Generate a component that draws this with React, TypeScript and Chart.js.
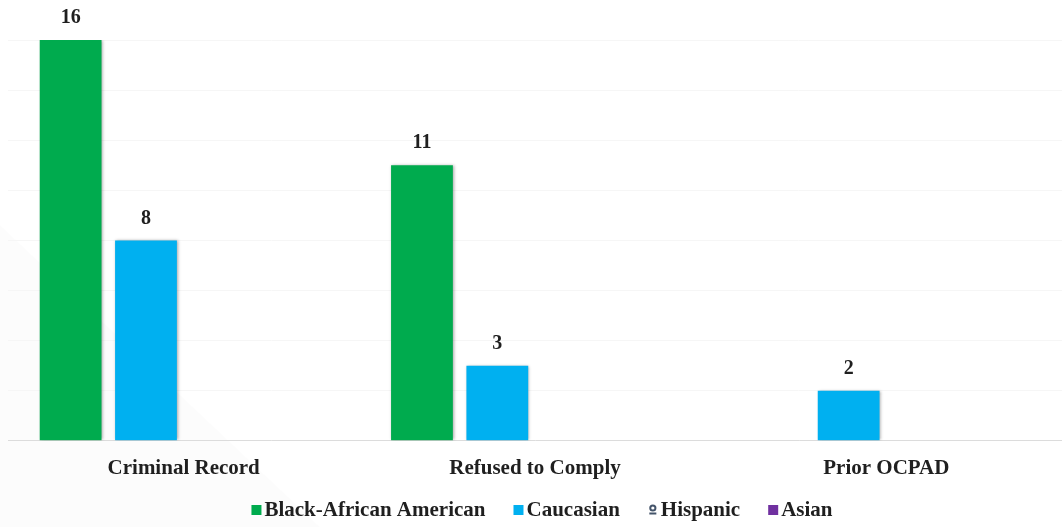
import React, { useEffect, useRef } from "react";
import { Chart, registerables } from "chart.js";

Chart.register(...registerables);

const categories = ["Criminal Record", "Refused to Comply", "Prior OCPAD"];
const seriesNames = ["Black-African American", "Caucasian", "Hispanic", "Asian"];
const blackAfricanAmerican = [16, 11, 0];
const caucasian = [8, 3, 2];
const hispanic = [0, 0, 0];
const asian = [0, 0, 0];
const seriesColors = ["#00AB4E", "#00B0F0", "#44546A", "#7030A0"];
const yTicks = [0, 2, 4, 6, 8, 10, 12, 14, 16];

const FONT = '"Liberation Serif", "Times New Roman", serif';
const TEXT_COLOR = "#1f1f1f";

// value above each non-empty bar
const valueLabels = {
  id: "valueLabels",
  afterDatasetsDraw(chart: any) {
    const ctx = chart.ctx;
    ctx.save();
    ctx.font = `bold 20px ${FONT}`;
    ctx.fillStyle = TEXT_COLOR;
    ctx.textAlign = "center";
    ctx.textBaseline = "middle";
    chart.data.datasets.forEach((ds: any, i: number) => {
      const meta = chart.getDatasetMeta(i);
      meta.data.forEach((bar: any, j: number) => {
        const v = ds.data[j];
        if (!v) return;
        ctx.fillText(String(v), bar.x, bar.y - 22);
      });
    });
    ctx.restore();
  },
};

const barShadow = {
  id: "barShadow",
  beforeDatasetDraw(chart: any) {
    const ctx = chart.ctx;
    ctx.save();
    ctx.shadowColor = "rgba(0,0,0,0.35)";
    ctx.shadowBlur = 3;
    ctx.shadowOffsetX = 1;
    ctx.shadowOffsetY = 0;
  },
  afterDatasetDraw(chart: any) {
    chart.ctx.restore();
  },
};

const background = {
  id: "background",
  beforeDraw(chart: any) {
    const { ctx, width, height } = chart;
    ctx.save();
    ctx.fillStyle = "#ffffff";
    ctx.fillRect(0, 0, width, height);
    ctx.fillStyle = "rgba(0,0,0,0.012)";
    ctx.beginPath();
    ctx.moveTo(0, 225);
    ctx.lineTo(320, height);
    ctx.lineTo(0, height);
    ctx.closePath();
    ctx.fill();
    ctx.restore();
  },
};

// compact legend row: marker, tight gap, bold label
const bottomLegend = {
  id: "bottomLegend",
  afterDraw(chart: any) {
    const ctx = chart.ctx;
    const box = 10;
    const gap = 3;
    const itemGap = 28;
    const y = 510;
    ctx.save();
    ctx.font = `bold 21px ${FONT}`;
    ctx.textBaseline = "middle";
    ctx.textAlign = "left";
    const items = chart.data.datasets.map((ds: any) => ({
      label: ds.label,
      color: ds.backgroundColor,
      w: ctx.measureText(ds.label).width,
    }));
    const total = items.reduce((s: number, it: any) => s + box + gap + it.w, 0) + itemGap * (items.length - 1);
    let x = 542 - total / 2;
    items.forEach((it: any, i: number) => {
      if (i === 2) {
        // pin marker
        ctx.strokeStyle = it.color;
        ctx.fillStyle = it.color;
        ctx.lineWidth = 2;
        ctx.beginPath();
        ctx.arc(x + 5, y - 2, 2.6, 0, Math.PI * 2);
        ctx.stroke();
        ctx.fillRect(x + 1.5, y + 2.5, 7, 2);
      } else {
        ctx.fillStyle = it.color;
        ctx.fillRect(x, y - box / 2, box, box);
      }
      x += box + gap;
      ctx.fillStyle = TEXT_COLOR;
      ctx.fillText(it.label, x, y + 1);
      x += it.w + itemGap;
    });
    ctx.restore();
  },
};

export default function App() {
  const ref = useRef<HTMLCanvasElement>(null);

  useEffect(() => {
    if (!ref.current) return;
    const values = [blackAfricanAmerican, caucasian, hispanic, asian];
    const chart = new Chart(ref.current, {
      type: "bar",
      data: {
        labels: categories,
        datasets: seriesNames.map((name, i) => ({
          label: name,
          data: values[i],
          backgroundColor: seriesColors[i],
          borderWidth: 0,
          categoryPercentage: 0.858,
          barPercentage: 0.82,
        })),
      },
      options: {
        animation: false,
        responsive: false,
        maintainAspectRatio: false,
        layout: { padding: { left: 8, right: 0, top: 40, bottom: 31 } },
        plugins: {
          tooltip: { enabled: false },
          legend: { display: false },
        },
        scales: {
          x: {
            grid: { display: false, drawTicks: false },
            border: { display: true, color: "#dcdcdc", width: 1 },
            ticks: {
              padding: 15,
              color: TEXT_COLOR,
              font: { family: FONT, size: 21, weight: "bold" },
            },
          },
          y: {
            min: yTicks[0],
            max: yTicks[yTicks.length - 1],
            afterBuildTicks: (scale: any) => {
              scale.ticks = yTicks.map((v) => ({ value: v }));
            },
            grid: { color: "#f6f6f6", drawTicks: false },
            border: { display: false },
            ticks: { display: false },
          },
        },
      },
      plugins: [background, barShadow, valueLabels, bottomLegend],
    });
    return () => chart.destroy();
  }, []);

  return (
    <div style={{ position: "fixed", left: 0, top: 0, width: 1062, height: 527, background: "#fff" }}>
      <canvas ref={ref} width={1062} height={527} style={{ width: 1062, height: 527 }} />
    </div>
  );
}
